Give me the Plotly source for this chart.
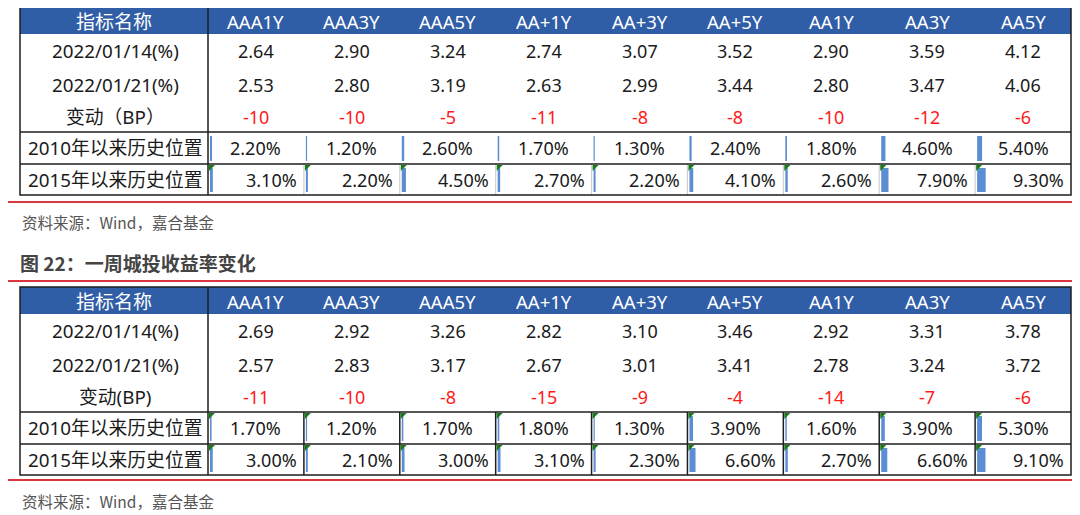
import plotly.graph_objects as go

# ---------------- data ----------------
columns = ["AAA1Y", "AAA3Y", "AAA5Y", "AA+1Y", "AA+3Y", "AA+5Y", "AA1Y", "AA3Y", "AA5Y"]
header_label = "指标名称"

t1_row_labels = ["2022/01/14(%)", "2022/01/21(%)", "变动（BP）", "2010年以来历史位置", "2015年以来历史位置"]
t1_0114 = [2.64, 2.90, 3.24, 2.74, 3.07, 3.52, 2.90, 3.59, 4.12]
t1_0121 = [2.53, 2.80, 3.19, 2.63, 2.99, 3.44, 2.80, 3.47, 4.06]
t1_bp = [-10, -10, -5, -11, -8, -8, -10, -12, -6]
t1_pos2010 = [2.20, 1.20, 2.60, 1.70, 1.30, 2.40, 1.80, 4.60, 5.40]
t1_pos2015 = [3.10, 2.20, 4.50, 2.70, 2.20, 4.10, 2.60, 7.90, 9.30]

t2_row_labels = ["2022/01/14(%)", "2022/01/21(%)", "变动(BP)", "2010年以来历史位置", "2015年以来历史位置"]
t2_0114 = [2.69, 2.92, 3.26, 2.82, 3.10, 3.46, 2.92, 3.31, 3.78]
t2_0121 = [2.57, 2.83, 3.17, 2.67, 3.01, 3.41, 2.78, 3.24, 3.72]
t2_bp = [-11, -10, -8, -15, -9, -4, -14, -7, -6]
t2_pos2010 = [1.70, 1.20, 1.70, 1.80, 1.30, 3.90, 1.60, 3.90, 5.30]
t2_pos2015 = [3.00, 2.10, 3.00, 3.10, 2.30, 6.60, 2.70, 6.60, 9.10]

source_text = "资料来源：Wind，嘉合基金"
title2_text = "图 22：一周城投收益率变化"

# ---------------- style / layout ----------------
W, H = 1080, 515
PAGE_MARGIN = 8  # default body margin of the html page
FONT = "Noto Sans, Noto Sans CJK SC, sans-serif"
CJK = "Noto Sans CJK SC, sans-serif"
HEAD_BLUE = "#2F5DA6"
DARK = "#1e1e1e"
RED_LINE = "#D9363E"
BAR_BLUE = "#5B8DD3"
GREEN = "#1A7A1A"

X_LEFT, X_NAME, X_RIGHT = 20, 208, 1071
NCOL = len(columns)
col_w = (X_RIGHT - X_NAME) / NCOL
col_edges = [X_NAME + i * col_w for i in range(NCOL + 1)]
# row boundaries relative to table top (header top)
row_bounds = [0, 27, 61, 94, 125, 157, 188]

shapes = []
annotations = []


def line(x0, y0, x1, y1, color=DARK, width=1.5):
    shapes.append(dict(type="line", xref="x", yref="y", x0=x0, y0=y0, x1=x1, y1=y1,
                       line=dict(color=color, width=width)))


def text(x, y, s, size=18, color="#1a1a1a", xanchor="center", family=FONT, bold=False):
    if bold:
        s = "<b>" + s + "</b>"
    annotations.append(dict(x=x, y=y, xref="x", yref="y", text=s, showarrow=False,
                            xanchor=xanchor, yanchor="middle",
                            font=dict(family=family, size=size, color=color)))


def draw_table(top, labels, v1, v2, bp, p2010, p2015, black_grid, tri_rows):
    rb = [top + r for r in row_bounds]
    # header
    shapes.append(dict(type="rect", xref="x", yref="y", x0=X_LEFT, x1=X_RIGHT, y0=rb[0], y1=rb[1],
                       fillcolor=HEAD_BLUE, line=dict(width=0), layer="below"))
    text((X_LEFT + X_NAME) / 2, (rb[0] + rb[1]) / 2 + 1, header_label, color="white", size=19)
    for i, c in enumerate(columns):
        text((col_edges[i] + col_edges[i + 1]) / 2, (rb[0] + rb[1]) / 2 + 1, c, color="white", size=18.5)
    # body rows
    rows = [
        [f"{v:.2f}" for v in v1],
        [f"{v:.2f}" for v in v2],
        [f"{v:d}" for v in bp],
        [f"{v:.2f}%" for v in p2010],
        [f"{v:.2f}%" for v in p2015],
    ]
    bars = {3: p2010, 4: p2015}
    for r in range(5):
        yc = (rb[r + 1] + rb[r + 2]) / 2
        text((X_LEFT + X_NAME) / 2 + 1, yc, labels[r], size=18.8)
        for i in range(NCOL):
            xl, xr = col_edges[i], col_edges[i + 1]
            color = "#FF1A1A" if r == 2 else "#1a1a1a"
            if r == 4:
                text(xr - 5, yc, rows[r][i], color=color, xanchor="right")
            else:
                text((xl + xr) / 2, yc, rows[r][i], color=color)
            if r in bars:
                bw = max(1.2, 0.92 * bars[r][i])
                shapes.append(dict(type="rect", xref="x", yref="y", x0=xl + 2, x1=xl + 2 + bw,
                                   y0=rb[r + 1] + 4, y1=rb[r + 2] - 3,
                                   fillcolor=BAR_BLUE, line=dict(width=0)))
            if r in tri_rows:
                ty = rb[r + 1] + 1
                shapes.append(dict(type="path", xref="x", yref="y",
                                   path=f"M {xl+1},{ty} L {xl+7},{ty} L {xl+1},{ty+6} Z",
                                   fillcolor=GREEN, line=dict(width=0)))
    # gridlines
    if black_grid:
        for xe in col_edges[1:-1]:
            line(xe, rb[4], xe, rb[6], DARK, 1.5)
    else:
        for xe in col_edges[1:-1]:
            line(xe, rb[5], xe, rb[6], "#cfcfcf", 1.2)
    line(X_LEFT, rb[4], X_RIGHT, rb[4])
    line(X_LEFT, rb[5], X_RIGHT, rb[5])
    line(X_NAME, rb[0], X_NAME, rb[6])
    shapes.append(dict(type="rect", xref="x", yref="y", x0=X_LEFT, x1=X_RIGHT, y0=rb[0], y1=rb[6],
                       line=dict(color=DARK, width=1.5)))


# red separator lines
line(0, 2, W, 2, RED_LINE, 2)
line(0, 202, W, 202, RED_LINE, 2)
line(0, 281, W, 281, RED_LINE, 2)
line(0, 480, W, 480, RED_LINE, 2)

draw_table(7, t1_row_labels, t1_0114, t1_0121, t1_bp, t1_pos2010, t1_pos2015,
           black_grid=False, tri_rows=[4])
draw_table(287, t2_row_labels, t2_0114, t2_0121, t2_bp, t2_pos2010, t2_pos2015,
           black_grid=True, tri_rows=[3, 4])

text(20, 222, source_text, size=15.5, color="#555555", xanchor="left", family=CJK)
text(20, 501, source_text, size=15.5, color="#555555", xanchor="left", family=CJK)
text(18, 262, title2_text, size=19, color="#444444", xanchor="left", family=CJK, bold=True)

fig = go.Figure(go.Scatter(x=[], y=[]))
fig.update_layout(
    width=W - PAGE_MARGIN, height=H - PAGE_MARGIN, margin=dict(l=0, r=0, t=0, b=0),
    paper_bgcolor="white", plot_bgcolor="white",
    xaxis=dict(range=[PAGE_MARGIN, W], visible=False, fixedrange=True),
    yaxis=dict(range=[H, PAGE_MARGIN], visible=False, fixedrange=True),
    shapes=shapes, annotations=annotations, showlegend=False,
)
fig.write_html("out.html")
